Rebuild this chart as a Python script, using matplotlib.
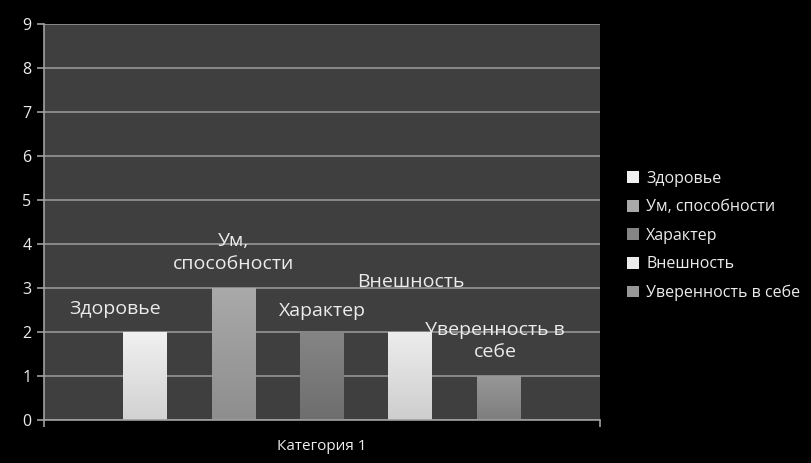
import matplotlib
matplotlib.use("Agg")
import matplotlib.pyplot as plt
import numpy as np
from matplotlib.colors import LinearSegmentedColormap

plt.rcParams['font.family'] = ['Open Sans', 'DejaVu Sans']

# Data
series = ["Здоровье", "Ум, способности", "Характер", "Внешность", "Уверенность в себе"]
values = [2, 3, 2, 2, 1]
bar_labels = ["Здоровье", "Ум,\nспособности", "Характер", "Внешность", "Уверенность в\nсебе"]
category = "Категория 1"
y_ticks = list(range(0, 10))

# Styling: top / bottom shades of each bar's vertical gradient
top_colors = ["#f0f0f0", "#a9a9a9", "#858585", "#ececec", "#979797"]
bottom_colors = ["#d2d2d2", "#8e8e8e", "#6e6e6e", "#cecece", "#7e7e7e"]
label_offsets = [(-22, 16.5), (0, 25.5), (0, 15), (0, 36), (-2.5, 25)]  # points from bar top

fig = plt.figure(figsize=(8.11, 4.63), dpi=100, facecolor="black")
ax = fig.add_axes([44 / 811, 43 / 463, 556 / 811, 396 / 463])
ax.set_facecolor("#3f3f3f")

n = len(series)
pitch = 0.159
width = 0.079
centers = 0.5 + (np.arange(n) - (n - 1) / 2) * pitch

# Gridlines
ax.set_yticks(y_ticks)
ax.yaxis.grid(True, color="#959595", linewidth=1.2)
ax.set_axisbelow(True)

handles = []
for i, (name, v) in enumerate(zip(series, values)):
    bc = ax.bar(centers[i], v, width=width, color=top_colors[i], label=name,
                edgecolor="none", zorder=2)
    patch = bc[0]
    cmap = LinearSegmentedColormap.from_list(
        f"g{i}", [bottom_colors[i], top_colors[i]])
    grad = np.linspace(0, 1, 64).reshape(-1, 1)
    im = ax.imshow(grad, cmap=cmap, aspect="auto", origin="lower", zorder=2.5,
                   extent=(centers[i] - width / 2, centers[i] + width / 2, 0, v))
    im.set_clip_path(patch)
    handles.append(bc)
    dx, dy = label_offsets[i]
    ax.annotate(bar_labels[i], (centers[i], v), xytext=(dx, dy),
                textcoords="offset points", ha="center", va="center",
                color="#ececec", fontsize=14, linespacing=1.3, zorder=4)

ax.set_xlim(0, 1)
ax.set_ylim(0, 9)

# Axes styling
for s in ["top", "right"]:
    ax.spines[s].set_visible(False)
for s in ["left", "bottom"]:
    ax.spines[s].set_color("#a0a0a0")
    ax.spines[s].set_linewidth(1.2)

ax.tick_params(axis="y", colors="#a0a0a0", labelcolor="#ececec", labelsize=11.5,
               length=5, width=1.2, pad=4)
ax.set_xticks([0, 1])
ax.set_xticklabels(["", ""])
ax.set_xticks([0.5], minor=True)
ax.set_xticklabels([category], minor=True)
ax.tick_params(axis="x", which="major", colors="#a0a0a0", length=5, width=1.2)
ax.tick_params(axis="x", which="minor", length=0, labelcolor="#ececec",
               labelsize=11, pad=14)

leg = ax.legend(handles=handles, labels=series, loc="center left",
                bbox_to_anchor=(616 / 811, (463 - 236) / 463), bbox_transform=fig.transFigure,
                frameon=False, fontsize=11.5, labelcolor="#ececec",
                handlelength=0.75, handleheight=0.75, handletextpad=0.45,
                labelspacing=0.78, borderpad=0.2)

fig.savefig("out.png", dpi=100, facecolor="black")
